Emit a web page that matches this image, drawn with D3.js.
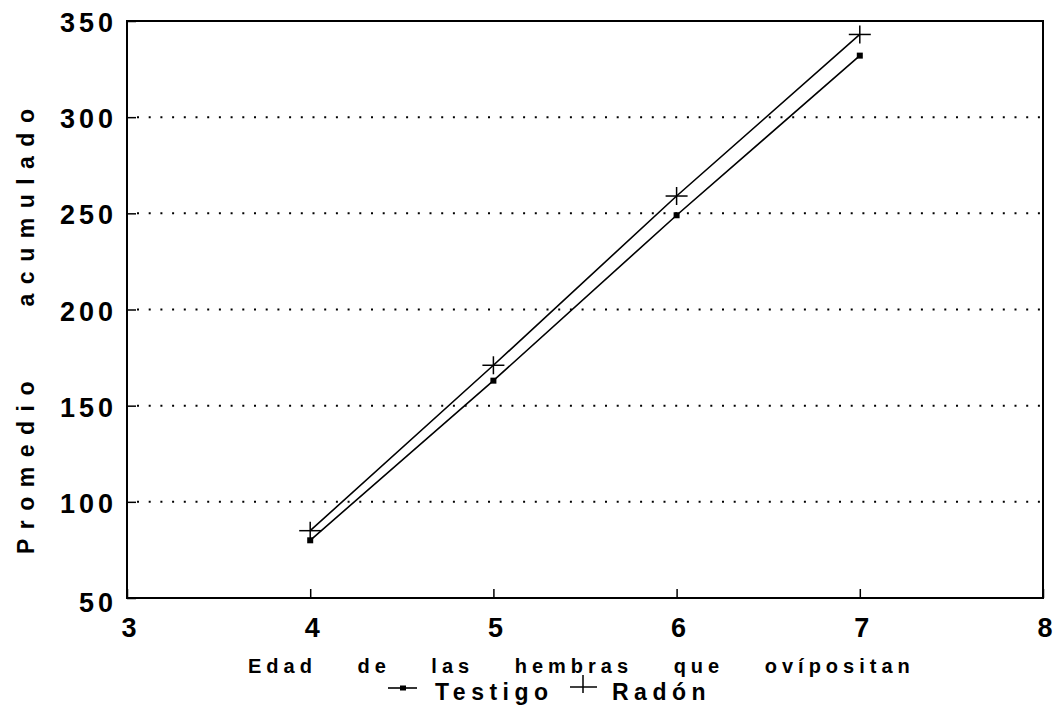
<!DOCTYPE html>
<html>
<head>
<meta charset="utf-8">
<script src="https://cdn.jsdelivr.net/npm/d3@7"></script>
<style>
  html, body { margin: 0; padding: 0; background: #fff; }
  svg { display: block; }
  text { font-family: "Liberation Sans", Arial, Helvetica, sans-serif; font-weight: bold; fill: #000; }
</style>
</head>
<body>
<svg id="chart" width="1054" height="717"></svg>
<script>
// ---- data ----
const ages = [4, 5, 6, 7];
const testigo = [80, 163, 249, 332];
const radon = [85, 171, 259, 343];
const seriesNames = ["Testigo", "Radón"];
const xTicks = [3, 4, 5, 6, 7, 8];
const yTicks = [50, 100, 150, 200, 250, 300, 350];
const gridValues = [100, 150, 200, 250, 300];
const xTitle = "Edad de las hembras que ovípositan";
const yTitleWords = ["Promedio", "acumulado"];

// ---- layout ----
const svg = d3.select("#chart");
const x = d3.scaleLinear().domain([3, 8]).range([127, 1043]);
const y = d3.scaleLinear().domain([50, 350]).range([598, 21]);

// gridlines (dotted)
svg.append("g").selectAll("line").data(gridValues).join("line")
  .attr("x1", x(3) + 10).attr("x2", x(8))
  .attr("y1", d => y(d)).attr("y2", d => y(d))
  .attr("stroke", "#000").attr("stroke-width", 2)
  .attr("stroke-dasharray", "2 9.7");

// axes with inward ticks
const yAxis = d3.axisRight(y).tickValues(yTicks).tickSize(9).tickFormat("");
svg.append("g").attr("transform", `translate(${x(3)},0)`).call(yAxis)
  .call(g => g.select(".domain").remove())
  .call(g => g.selectAll("line").attr("stroke-width", 1.5));
const xAxis = d3.axisTop(x).tickValues(xTicks).tickSize(9).tickFormat("");
svg.append("g").attr("transform", `translate(0,${y(50)})`).call(xAxis)
  .call(g => g.select(".domain").remove())
  .call(g => g.selectAll("line").attr("stroke-width", 1.5));

// frame
svg.append("rect")
  .attr("x", x(3)).attr("y", y(350))
  .attr("width", x(8) - x(3)).attr("height", y(50) - y(350))
  .attr("fill", "none").attr("stroke", "#000").attr("stroke-width", 2);

// tick labels
svg.append("g").selectAll("text").data(yTicks).join("text")
  .attr("x", 117).attr("y", d => y(d) + (d === 50 ? 14 : 11))
  .attr("text-anchor", "end")
  .attr("font-size", 27).attr("letter-spacing", 4)
  .text(d => d);
svg.append("g").selectAll("text").data(xTicks).join("text")
  .attr("x", d => x(d) + 2).attr("y", 637)
  .attr("text-anchor", "middle")
  .attr("font-size", 27)
  .text(d => d);

// series lines
const line = d3.line().x((d, i) => x(ages[i])).y(d => y(d));
svg.append("path").datum(testigo).attr("d", line)
  .attr("fill", "none").attr("stroke", "#000").attr("stroke-width", 1.6);
svg.append("path").datum(radon).attr("d", line)
  .attr("fill", "none").attr("stroke", "#000").attr("stroke-width", 1.6);

// markers
svg.append("g").selectAll("rect").data(testigo).join("rect")
  .attr("x", (d, i) => x(ages[i]) - 3).attr("y", d => y(d) - 3)
  .attr("width", 6).attr("height", 6).attr("fill", "#000");
const plus = svg.append("g").selectAll("g").data(radon).join("g")
  .attr("transform", (d, i) => `translate(${x(ages[i])},${y(d)})`);
plus.append("line").attr("x1", -11).attr("x2", 11).attr("y1", 0).attr("y2", 0)
  .attr("stroke", "#000").attr("stroke-width", 1.5);
plus.append("line").attr("x1", 0).attr("x2", 0).attr("y1", -9).attr("y2", 9)
  .attr("stroke", "#000").attr("stroke-width", 1.5);

// axis titles
svg.append("text").attr("x", 248).attr("y", 673)
  .attr("font-size", 20).attr("letter-spacing", 5).attr("word-spacing", 30)
  .text(xTitle);

const yTitleCenters = [463, 203];
yTitleWords.forEach((w, i) => {
  svg.append("text")
    .attr("transform", `translate(34,${yTitleCenters[i]}) rotate(-90)`)
    .attr("text-anchor", "middle")
    .attr("font-size", 23).attr("letter-spacing", 9.5)
    .text(w);
});

// legend
const leg = svg.append("g");
leg.append("line").attr("x1", 388).attr("x2", 417).attr("y1", 688).attr("y2", 688)
  .attr("stroke", "#000").attr("stroke-width", 1.6);
leg.append("rect").attr("x", 400).attr("y", 685.5).attr("width", 6).attr("height", 5).attr("fill", "#000");
leg.append("text").attr("x", 435).attr("y", 700).attr("font-size", 23).attr("letter-spacing", 5.5).text(seriesNames[0]);
leg.append("line").attr("x1", 570).attr("x2", 597).attr("y1", 687).attr("y2", 687)
  .attr("stroke", "#000").attr("stroke-width", 1.5);
leg.append("line").attr("x1", 583).attr("x2", 583).attr("y1", 675).attr("y2", 693)
  .attr("stroke", "#000").attr("stroke-width", 1.5);
leg.append("text").attr("x", 612).attr("y", 700).attr("font-size", 23).attr("letter-spacing", 5.5).text(seriesNames[1]);
</script>
</body>
</html>
